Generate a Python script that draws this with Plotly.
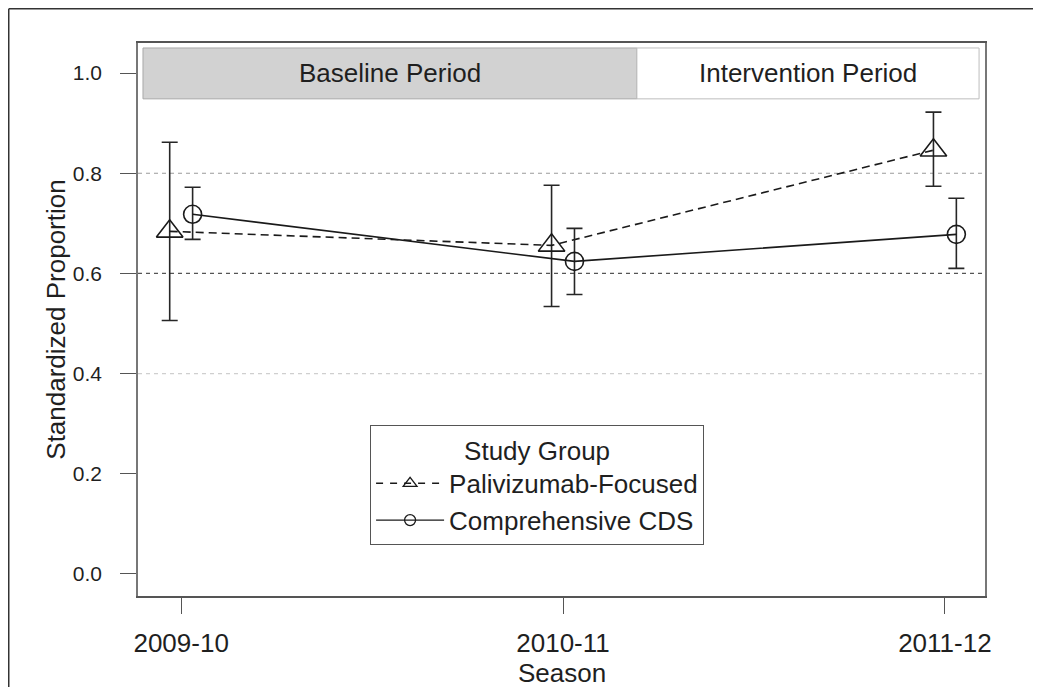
import plotly.graph_objects as go

seasons = ["2009-10", "2010-11", "2011-12"]

pal_name = "Palivizumab-Focused"
pal_mean = [0.684, 0.656, 0.846]
pal_upper = [0.862, 0.776, 0.922]
pal_lower = [0.506, 0.534, 0.774]

cds_name = "Comprehensive CDS"
cds_mean = [0.718, 0.624, 0.678]
cds_upper = [0.772, 0.690, 0.750]
cds_lower = [0.668, 0.558, 0.610]

y_ticks = [0.0, 0.2, 0.4, 0.6, 0.8, 1.0]
grid_values = [0.4, 0.6, 0.8]
period_labels = ["Baseline Period", "Intervention Period"]
x_title = "Season"
y_title = "Standardized Proportion"

FONT = "Liberation Sans, Arial, Helvetica, sans-serif"
INK = "#1f1f1f"
LINE = "#1a1a1a"

pos = list(range(1, len(seasons) + 1))
dodge = 0.03
x_pal = [p - dodge for p in pos]
x_cds = [p + dodge for p in pos]

fig = go.Figure()

def err(mean, up, lo):
    return dict(type="data", symmetric=False,
                array=[u - m for u, m in zip(up, mean)],
                arrayminus=[m - l for m, l in zip(mean, lo)],
                color="#262626", thickness=1.6, width=8)

fig.add_trace(go.Scatter(
    x=x_pal, y=pal_mean, name=pal_name, mode="lines+markers", showlegend=False,
    line=dict(color=LINE, width=1.6, dash="8px,5px"),
    marker=dict(symbol="triangle-up-open", size=23, color=LINE, line=dict(width=1.6, color=LINE)),
    error_y=err(pal_mean, pal_upper, pal_lower),
))
fig.add_trace(go.Scatter(
    x=x_cds, y=cds_mean, name=cds_name, mode="lines+markers", showlegend=False,
    line=dict(color=LINE, width=1.6),
    marker=dict(symbol="circle-open", size=18, color=LINE, line=dict(width=1.6, color=LINE)),
    error_y=err(cds_mean, cds_upper, cds_lower),
))
# legend entries (smaller key symbols, as in the reference key)
fig.add_trace(go.Scatter(
    x=[None], y=[None], name=pal_name, mode="lines+markers",
    line=dict(color=LINE, width=1.4, dash="7px,7px"),
    marker=dict(symbol="triangle-up-open", size=12, color=LINE, line=dict(width=1.3, color=LINE)),
))
fig.add_trace(go.Scatter(
    x=[None], y=[None], name=cds_name, mode="lines+markers",
    line=dict(color=LINE, width=1.4),
    marker=dict(symbol="circle-open", size=11, color=LINE, line=dict(width=1.3, color=LINE)),
))

shapes = []
grid_colors = {0.4: "#cfcfcf", 0.6: "#555555", 0.8: "#9a9a9a"}
for g in grid_values:
    shapes.append(dict(type="line", xref="paper", yref="y", x0=0, x1=1, y0=g, y1=g,
                       line=dict(color=grid_colors.get(g, "#999"), width=1.2, dash="4px,4px"),
                       layer="below"))

# strip (period header)
sx0, sx1, sx2 = 0.0059, 0.589, 0.993
sy0, sy1 = 0.899, 0.991
shapes.append(dict(type="rect", xref="paper", yref="paper", x0=sx0, x1=sx1, y0=sy0, y1=sy1,
                   fillcolor="#d2d2d2", line=dict(color="#a8a8a8", width=1), layer="below"))
shapes.append(dict(type="rect", xref="paper", yref="paper", x0=sx1, x1=sx2, y0=sy0, y1=sy1,
                   fillcolor="#ffffff", line=dict(color="#bdbdbd", width=1), layer="below"))
# outer frame (top and left edges; the others fall outside the picture)
fx0, fy1 = -0.1526, 1.0619
shapes.append(dict(type="line", xref="paper", yref="paper", x0=fx0, x1=1.2, y0=fy1, y1=fy1,
                   line=dict(color="#333333", width=1.5)))
shapes.append(dict(type="line", xref="paper", yref="paper", x0=fx0, x1=fx0, y0=-0.3, y1=fy1,
                   line=dict(color="#333333", width=1.5)))

annotations = [
    dict(text=period_labels[0], xref="paper", yref="paper", x=(sx0 + sx1) / 2, y=(sy0 + sy1) / 2,
         xanchor="center", yanchor="middle",
         showarrow=False, font=dict(size=26, color=INK, family=FONT)),
    dict(text=period_labels[1], xref="paper", yref="paper", x=(sx1 + sx2) / 2, y=(sy0 + sy1) / 2,
         xanchor="center", yanchor="middle",
         showarrow=False, font=dict(size=26, color=INK, family=FONT)),
    dict(text=x_title, xref="paper", yref="paper", x=0.5, y=-0.1392,
         xanchor="center", yanchor="middle",
         showarrow=False, font=dict(size=26, color=INK, family=FONT)),
]

fig.update_layout(
    width=1025, height=679,
    margin=dict(l=130, r=48, t=35, b=91, autoexpand=False),
    paper_bgcolor="white", plot_bgcolor="white",
    font=dict(family=FONT, color=INK),
    showlegend=True,
    legend=dict(
        x=0.274, y=0.309, xanchor="left", yanchor="top",
        bordercolor="#555555", borderwidth=1, bgcolor="white",
        font=dict(size=26, color=INK, family=FONT),
        title=dict(text="Study Group", side="top center", font=dict(size=26, color=INK, family=FONT)),
        itemwidth=68, tracegroupgap=0,
    ),
    shapes=shapes,
    annotations=annotations,
)

fig.update_xaxes(
    range=[0.887, 3.105], tickmode="array", tickvals=pos, ticktext=seasons,
    ticks="outside", ticklen=16, tickwidth=1.2, tickcolor="#555555",
    tickfont=dict(size=26, color=INK, family=FONT), ticklabelstandoff=7,
    showline=True, linecolor="#555555", linewidth=1.5, mirror=True,
    showgrid=False, zeroline=False, automargin=False,
)
fig.update_yaxes(
    range=[-0.044, 1.06], tickmode="array", tickvals=y_ticks,
    ticktext=[f"{v:.1f}" for v in y_ticks],
    ticks="outside", ticklen=16, tickwidth=1.2, tickcolor="#555555",
    tickfont=dict(size=21, color=INK, family=FONT), ticklabelstandoff=14,
    showline=True, linecolor="#777777", linewidth=1.5, mirror=True,
    showgrid=False, zeroline=False, automargin=False,
    title=dict(text=y_title, font=dict(size=26, color=INK, family=FONT), standoff=0),
)

fig.write_html("out.html")
